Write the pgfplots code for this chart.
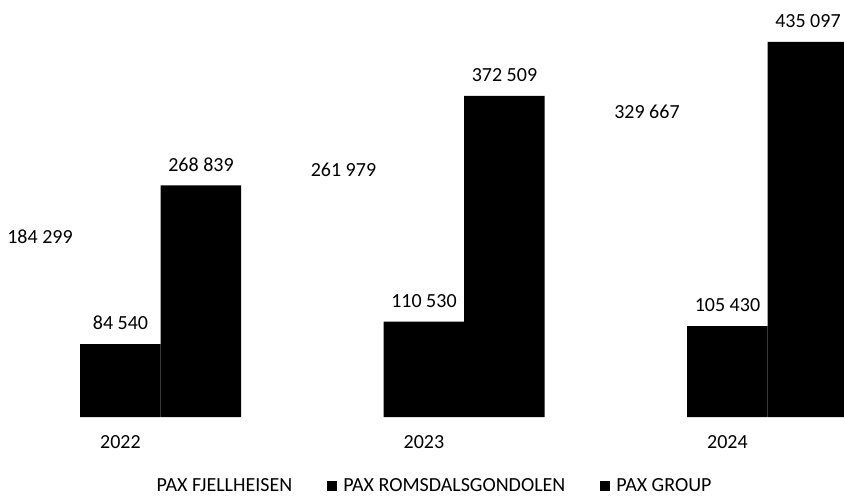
\documentclass[border=0pt]{standalone}
\usepackage{pgfplots}
\pgfplotsset{compat=1.18}
\usepackage{fontspec}
\setmainfont{Carlito}
\begin{document}
\begin{tikzpicture}[font=\fontsize{20pt}{24pt}\selectfont]
\useasboundingbox (0pt,0pt) rectangle (844pt,496pt);
\begin{axis}[
  at={(0pt,79pt)}, anchor=south west,
  scale only axis, width=844pt, height=417pt,
  xmin=-0.397, xmax=2.384, ymin=0, ymax=483820,
  enlargelimits=false,
  ybar=0pt, bar width=80.5pt,
  axis line style={draw=none}, tick style={draw=none},
  xtick={0,1,2}, xticklabels={2022,2023,2024},
  xticklabel style={anchor=center, yshift=-21pt},
  ytick=\empty,
  point meta=explicit symbolic,
  nodes near coords,
  every node near coord/.append style={anchor=center, yshift=21pt, text=black},
  legend columns=3,
  legend style={at={(0.506,-0.166)}, anchor=center, draw=none, fill=none,
    inner sep=0pt,
    /tikz/every odd column/.append style={column sep=4pt},
    /tikz/every even column/.append style={column sep=33pt}},
  legend image code/.code={\path[#1] (0pt,-5pt) rectangle (10pt,5pt);},
]
\addplot[fill=none, draw=none] coordinates {(0,184299) [184 299] (1,261979) [261 979] (2,329667) [329 667]};
\addplot[fill=black, draw=none] coordinates {(0,84540) [84 540] (1,110530) [110 530] (2,105430) [105 430]};
\addplot[fill=black, draw=none] coordinates {(0,268839) [268 839] (1,372509) [372 509] (2,435097) [435 097]};
\legend{PAX FJELLHEISEN, PAX ROMSDALSGONDOLEN, PAX GROUP}
\end{axis}
\end{tikzpicture}
\end{document}
